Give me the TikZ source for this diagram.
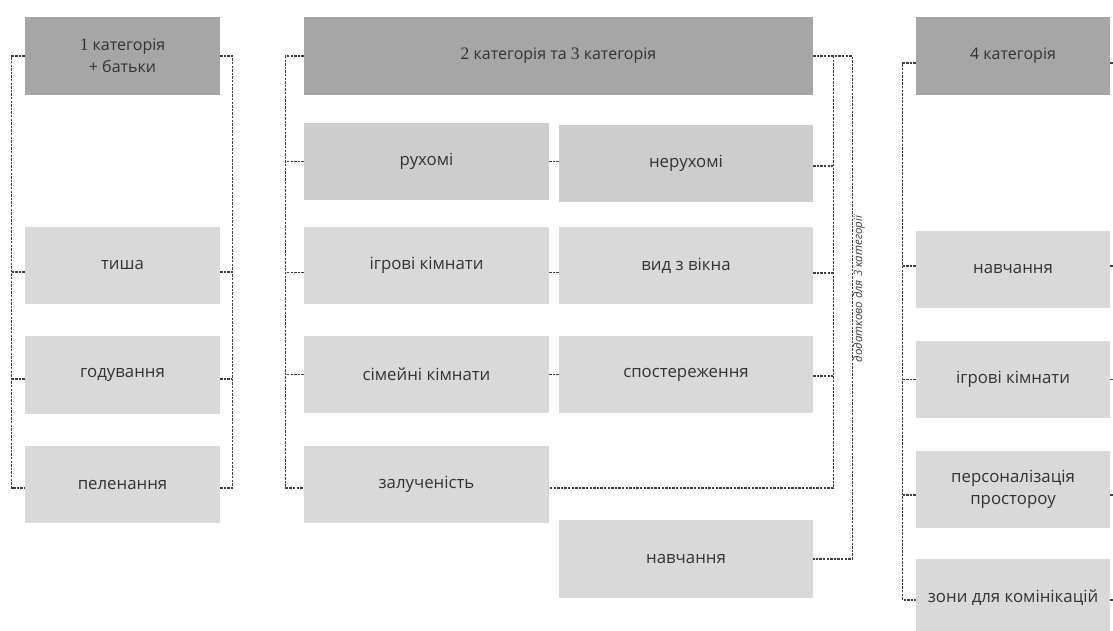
\documentclass[tikz,border=0pt]{standalone}
\usepackage{fontspec}
\setmainfont{Open Sans}
\newfontfamily\digitserif{Liberation Serif}
\definecolor{hdr}{HTML}{A6A6A6}
\definecolor{midbox}{HTML}{CDCDCD}
\definecolor{lightbox}{HTML}{D9D9D9}
\definecolor{txt}{HTML}{333333}
\definecolor{lnc}{HTML}{404040}
\newcommand{\sd}[1]{{\digitserif\fontsize{17.5}{20}\selectfont #1}}
\tikzset{
  basebox/.style={draw=none, inner sep=2pt, align=center, text=txt,
    font=\fontsize{16.8}{22}\selectfont},
  hdrbox/.style={basebox, fill=hdr, font=\fontsize{16}{22}\selectfont},
  itembox/.style={basebox, fill=lightbox},
  movbox/.style={basebox, fill=midbox},
  conn/.style={draw=lnc, line width=1.1pt, dash pattern=on 2.4pt off 1.2pt},
}
\begin{document}
\begin{tikzpicture}[x=1pt, y=-1pt]
\useasboundingbox (0,0) rectangle (1113,630);
\clip (0,0) rectangle (1113,630);

% ---------- left column ----------
\node[hdrbox, minimum width=195, minimum height=78] (h1) at (122.5,56) {\sd{1} категорія\\+ батьки};
\node[itembox, minimum width=195, minimum height=77] (tysha) at (122.5,265.5) {тиша};
\node[itembox, minimum width=195, minimum height=78] (hod) at (122.5,375) {годування};
\node[itembox, minimum width=195, minimum height=77] (pel) at (122.5,484.5) {пеленання};

\draw[conn] (h1.west) -- ++(-13,0) |- ([yshift=-3.5]pel.west);
\draw[conn] ([yshift=-6.5]tysha.west) -- ++(-13,0);
\draw[conn] ([yshift=-4]hod.west) -- ++(-13,0);
\draw[conn] (h1.east) -- ++(12,0) |- ([yshift=-3.5]pel.east);
\draw[conn] ([yshift=-6.5]tysha.east) -- ++(12,0);
\draw[conn] ([yshift=-4]hod.east) -- ++(12,0);

% ---------- middle column ----------
\node[hdrbox, minimum width=509, minimum height=78] (h2) at (558.5,56) {\sd{2} категорія та \sd{3} категорія};
\node[movbox, minimum width=245, minimum height=77] (rux) at (426.5,161.5) {рухомі};
\node[movbox, minimum width=254, minimum height=77] (nerux) at (686,163.5) {нерухомі};
\node[itembox, minimum width=245, minimum height=77] (igr) at (426.5,265.5) {ігрові кімнати};
\node[itembox, minimum width=254, minimum height=77] (vyd) at (686,265.5) {вид з вікна};
\node[itembox, minimum width=245, minimum height=77] (sim) at (426.5,374.5) {сімейні кімнати};
\node[itembox, minimum width=254, minimum height=77] (spost) at (686,374.5) {спостереження};
\node[itembox, minimum width=245, minimum height=77] (zal) at (426.5,484.5) {залученість};
\node[itembox, minimum width=254, minimum height=78] (navm) at (686,559) {навчання};

% left bracket
\draw[conn] (h2.west) -- ++(-18,0) |- ([yshift=-3.5]zal.west);
\draw[conn] (rux.west) -- ++(-18,0);
\draw[conn] ([yshift=-7]igr.west) -- ++(-18,0);
\draw[conn] (sim.west) -- ++(-18,0);
% between columns
\draw[conn] (rux.east) -- ++(10,0);
\draw[conn] ([yshift=-7]igr.east) -- ++(10,0);
\draw[conn] (sim.east) -- ++(10,0);
% inner right bracket
\coordinate (hr) at ([xshift=20]h2.east);
\draw[conn] (h2.east) -- ([xshift=39]h2.east) |- (navm.east);
\draw[conn] (hr) |- ([yshift=-3.5]zal.east);
\draw[conn] ([yshift=-2.5]nerux.east) -- ++(20,0);
\draw[conn] ([yshift=-7.5]vyd.east) -- ++(20,0);
\draw[conn] ([yshift=-1.5]spost.east) -- ++(20,0);

\node[rotate=90, inner sep=0pt, text=lnc, font=\itshape\fontsize{11.5}{13}\selectfont] (note) at (859,289) {додатково для 3 категорії};

% ---------- right column ----------
\node[hdrbox, minimum width=194, minimum height=78] (h4) at (1013,56) {4 категорія};
\node[itembox, minimum width=194, minimum height=77] (nav4) at (1013,269.5) {навчання};
\node[itembox, minimum width=194, minimum height=77] (igr4) at (1013,379.5) {ігрові кімнати};
\node[itembox, minimum width=194, minimum height=77] (pers) at (1013,489.5) {персоналізація\\простороу};
\node[itembox, minimum width=194, minimum height=77] (zon) at (1013,597.5) {зони для комінікацій};

\draw[conn] ([yshift=-7]h4.west) -- ++(-13,0) |- ([yshift=-2.5]zon.west);
\draw[conn] ([yshift=3.5]nav4.west) -- ++(-13,0);
\draw[conn] (igr4.west) -- ++(-13,0);
\draw[conn] ([yshift=-5.5]pers.west) -- ++(-13,0);
\draw[conn] ([yshift=-7]h4.east) -- ++(8,0);
\draw[conn] ([yshift=3.5]nav4.east) -- ++(8,0);
\draw[conn] (igr4.east) -- ++(8,0);
\draw[conn] ([yshift=-5.5]pers.east) -- ++(8,0);
\draw[conn] ([yshift=-2.5]zon.east) -- ++(8,0);
\end{tikzpicture}
\end{document}
